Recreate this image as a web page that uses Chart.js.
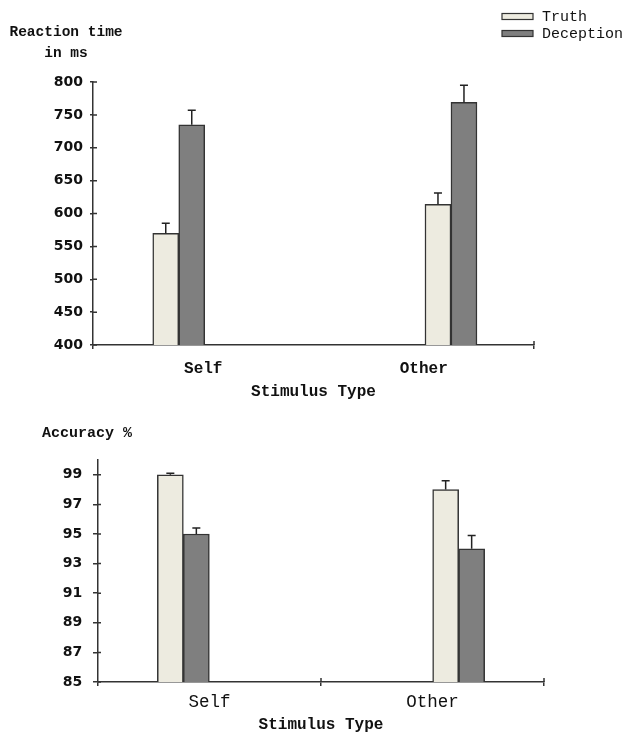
<!DOCTYPE html>
<html><head><meta charset="utf-8">
<script src="https://cdn.jsdelivr.net/npm/chart.js@4"></script>
<style>
html,body{margin:0;padding:0;background:#fff}
.box{width:628px;position:relative}
canvas{display:block}
</style></head><body>
<div class="box" style="height:400px"><canvas id="ChartRT"></canvas></div>
<div class="box" style="height:333px"><canvas id="ChartACC"></canvas></div>
<script>
let ChartRT,ChartACC

const CATEGORIES=['Self','Other']
const RT_TRUTH=[570,614]
const RT_DECEPTION=[735,769]
const RT_TRUTH_ERR=[15,17]
const RT_DECEPTION_ERR=[22,26]
const RT_TICKS=[400,450,500,550,600,650,700,750,800]
const ACC_TRUTH=[99.0,98.0]
const ACC_DECEPTION=[95.0,94.0]
const ACC_TRUTH_ERR=[0.1,0.6]
const ACC_DECEPTION_ERR=[0.4,0.9]
const ACC_TICKS=[85,87,89,91,93,95,97,99]
const RT_CAPTION=['Reaction time','in ms']
const ACC_CAPTION=['Accuracy %']
const X_TITLE='Stimulus Type'

const INK='#111',LINE='#333'
const TRUTH_FILL='#EDEBE0',DECEPTION_FILL='#7F7F7F'
const MONO='Liberation Mono'

// one-sided (upper) error bars
const errorBarsPlugin={id:'errorBars',afterDatasetsDraw(chart){
const ctx=chart.ctx,y=chart.scales.y
ctx.save();ctx.strokeStyle='#222';ctx.lineWidth=1.5
chart.data.datasets.forEach((ds,di)=>{
if(!ds.errors)return
chart.getDatasetMeta(di).data.forEach((bar,i)=>{
let top=y.getPixelForValue(ds.data[i].y+ds.errors[i])
ctx.beginPath();ctx.moveTo(bar.x,bar.y);ctx.lineTo(bar.x,top)
ctx.moveTo(bar.x-4,top);ctx.lineTo(bar.x+4,top);ctx.stroke()
})
})
ctx.restore()
}}

// legend in the top right corner, stacked
const sideKeyPlugin={id:'sideKey',afterDraw(chart,args,opts){
const ctx=chart.ctx
ctx.save();ctx.font=opts.font;ctx.textBaseline='middle'
chart.data.datasets.forEach((ds,i)=>{
let yy=opts.y+i*opts.step
ctx.fillStyle=ds.backgroundColor;ctx.fillRect(opts.x,yy-3,31,6)
ctx.strokeStyle=LINE;ctx.lineWidth=1.2;ctx.strokeRect(opts.x,yy-3,31,6)
ctx.fillStyle=INK;ctx.fillText(ds.label,opts.x+40,yy+1)
})
ctx.restore()
}}

// horizontal y caption above the axis
const captionPlugin={id:'caption',afterDraw(chart,args,opts){
const ctx=chart.ctx
ctx.save();ctx.font=opts.font;ctx.fillStyle=INK;ctx.textAlign='center';ctx.textBaseline='middle'
opts.lines.forEach((t,i)=>ctx.fillText(t,opts.x,opts.y+i*opts.step))
ctx.restore()
}}

// tick marks poking into the plot area
const stubsPlugin={id:'stubs',afterDraw(chart,args,opts){
const ctx=chart.ctx,a=chart.chartArea,ys=chart.scales.y,xs=chart.scales.x
ctx.save();ctx.strokeStyle=LINE;ctx.lineWidth=1.5;ctx.beginPath()
ys.ticks.forEach(t=>{let p=ys.getPixelForValue(t.value);ctx.moveTo(a.left,p);ctx.lineTo(a.left+opts.y,p)})
opts.xMarks.forEach(i=>{
let p=i<CATEGORIES.length?(xs.getPixelForValue(i-1)+xs.getPixelForValue(i))/2:a.right
ctx.moveTo(p,a.bottom);ctx.lineTo(p,a.bottom-opts.x)
})
ctx.stroke();ctx.restore()
}}

function bars(label,vals,errs,fill){
return{label:label,xAxisID:'xb',data:CATEGORIES.map((c,i)=>({x:i,y:vals[i]})),errors:errs,
backgroundColor:fill,borderColor:LINE,borderWidth:1.5,barThickness:26}
}

function axes(o){
return{
x:{type:'category',offset:true,afterFit:s=>{s.height=o.xHeight},
border:{color:LINE,width:1.5},
grid:{offset:true,drawOnChartArea:false,tickLength:4,lineWidth:1.5,color:o.xGridColor},
ticks:{padding:o.xPad,color:INK,font:{family:MONO,weight:o.xWeight,size:o.xSize}},
title:{display:true,text:X_TITLE,color:INK,font:{family:MONO,weight:'bold',size:16,lineHeight:1},padding:{top:0,bottom:0}}},
xb:{type:'linear',display:false,offset:false,min:o.bMin,max:o.bMax,grid:{offset:false}},
y:{min:o.yMin,max:o.yMax,afterBuildTicks:s=>{s.ticks=o.ticks.map(v=>({value:v}))},
afterFit:s=>{s.width=o.yWidth},
border:{color:LINE,width:1.5},
grid:{drawOnChartArea:false,tickLength:o.yTick,color:LINE,lineWidth:1.5},
ticks:{padding:o.yPad,color:INK,font:{family:'DejaVu Sans',weight:'bold',size:14}}}
}
}

function LoadRT(){
ChartRT=new Chart(document.getElementById('ChartRT'),{
type:'bar',
data:{labels:CATEGORIES,datasets:[bars('Truth',RT_TRUTH,RT_TRUTH_ERR,TRUTH_FILL),bars('Deception',RT_DECEPTION,RT_DECEPTION_ERR,DECEPTION_FILL)]},
options:{responsive:true,maintainAspectRatio:false,animation:false,
layout:{padding:{left:0,right:94,top:82,bottom:0}},
scales:axes({xHeight:55,xPad:10.4,xWeight:'bold',xSize:16,bMin:-0.315,bMax:1.305,
xGridColor:c=>(c.type==='tick'&&c.index===1)?'rgba(0,0,0,0)':LINE,
yMin:400,yMax:800,ticks:RT_TICKS,yWidth:93,yTick:3,yPad:7}),
plugins:{legend:{display:false},tooltip:{enabled:false},
sideKey:{x:502,y:16.5,step:17,font:'15px "'+MONO+'"'},
caption:{lines:RT_CAPTION,x:66,y:32,step:21,font:'bold 14.5px "'+MONO+'"'},
stubs:{y:4,x:4,xMarks:[2]}}},
plugins:[errorBarsPlugin,sideKeyPlugin,captionPlugin,stubsPlugin]
})
}

function LoadACC(){
ChartACC=new Chart(document.getElementById('ChartACC'),{
type:'bar',
data:{labels:CATEGORIES,datasets:[bars('Truth',ACC_TRUTH,ACC_TRUTH_ERR,TRUTH_FILL),bars('Deception',ACC_DECEPTION,ACC_DECEPTION_ERR,DECEPTION_FILL)]},
options:{responsive:true,maintainAspectRatio:false,animation:false,
layout:{padding:{left:0,right:84,top:60,bottom:0}},
scales:axes({xHeight:51,xPad:5.5,xWeight:'normal',xSize:17.5,bMin:-0.31,bMax:1.31,
xGridColor:LINE,
yMin:85,yMax:100,ticks:ACC_TICKS,yWidth:98,yTick:5,yPad:10.7}),
plugins:{legend:{display:false},tooltip:{enabled:false},
caption:{lines:ACC_CAPTION,x:87,y:33,step:21,font:'bold 15px "'+MONO+'"'},
stubs:{y:3,x:4,xMarks:[1,2]}}},
plugins:[errorBarsPlugin,captionPlugin,stubsPlugin]
})
}

LoadRT()
LoadACC()
</script>
</body></html>
